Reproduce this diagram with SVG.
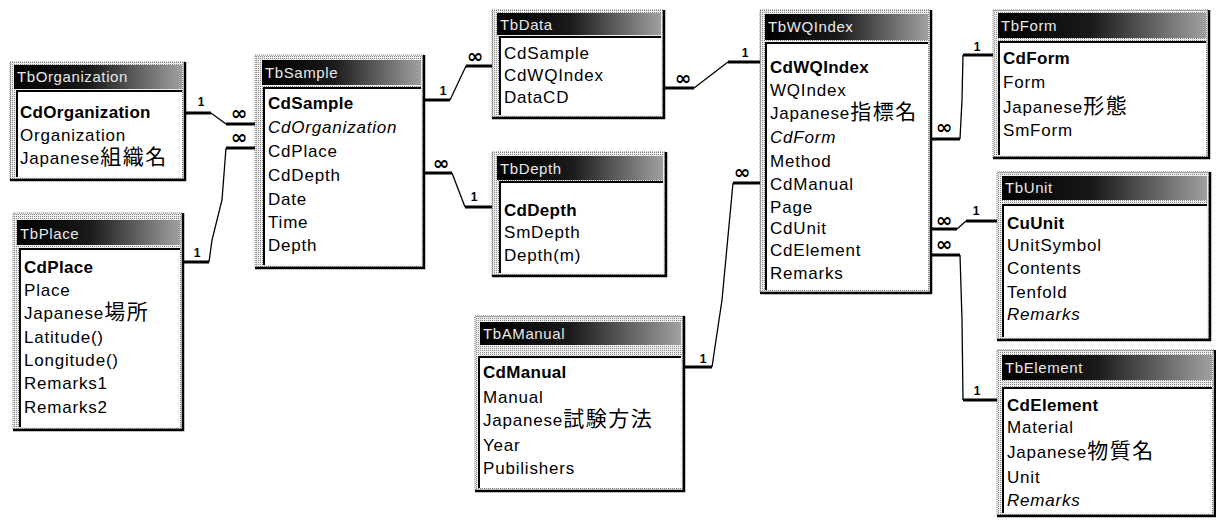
<svg xmlns="http://www.w3.org/2000/svg" width="1216" height="522" viewBox="0 0 1216 522">
<defs>
<linearGradient id="tg" x1="0" y1="0" x2="1" y2="0">
<stop offset="0" stop-color="#000"/>
<stop offset="0.45" stop-color="#1a1a1a"/>
<stop offset="1" stop-color="#a0a0a0"/>
</linearGradient>
<pattern id="dith" width="2" height="2" patternUnits="userSpaceOnUse">
<rect width="2" height="2" fill="#ececec"/>
<rect width="1" height="1" fill="#8a8a8a"/>
</pattern>
</defs>
<style>
.frame{fill:url(#dith);stroke:#777;stroke-width:1;stroke-dasharray:1 1}
.shadow{fill:none;stroke:#000;stroke-width:2.5}
.title{fill:url(#tg)}
.tt{font-family:"Liberation Sans",Arial,sans-serif;font-size:15px;fill:#e8e8e8;letter-spacing:0.6px}
.list{fill:#fff}
.sunk{fill:none;stroke:#000;stroke-width:2}
.f{font-family:"Liberation Sans",Arial,sans-serif;font-size:17px;fill:#000;letter-spacing:0.8px}
.b{font-weight:bold;letter-spacing:0.3px}
.i{font-style:italic}
.cjk{font-family:"Noto Sans CJK JP",sans-serif;font-size:21px;letter-spacing:1.5px}
.thick{fill:none;stroke:#000;stroke-width:3}
.thin{fill:none;stroke:#000;stroke-width:1.3}
.one{font-family:"Liberation Sans",Arial,sans-serif;font-size:12px;font-weight:bold;text-anchor:middle}
.inf{font-family:"DejaVu Sans",sans-serif;font-size:20px;font-weight:bold;text-anchor:middle}
</style>
<rect width="1216" height="522" fill="#fff"/>

<g id="TbOrganization">
<rect class="frame" x="10" y="62" width="175" height="118"/>
<path class="shadow" d="M185 62 V180 H10"/>
<rect class="title" x="14" y="65" width="168" height="24"/>
<text class="tt" x="17" y="82">TbOrganization</text>
<rect class="list" x="17" y="91" width="165" height="86"/>
<path class="sunk" d="M17 177 V91 H182"/>
<text class="f b" x="20" y="118">CdOrganization</text>
<text class="f" x="20" y="141">Organization</text>
<text class="f" x="20" y="164">Japanese<tspan class="cjk">組織名</tspan></text>
</g>

<g id="TbPlace">
<rect class="frame" x="13" y="213" width="170" height="217"/>
<path class="shadow" d="M183 213 V430 H13"/>
<rect class="title" x="17" y="220" width="163" height="25"/>
<text class="tt" x="20" y="239">TbPlace</text>
<rect class="list" x="20" y="249" width="160" height="178"/>
<path class="sunk" d="M20 427 V249 H180"/>
<text class="f b" x="24" y="273">CdPlace</text>
<text class="f" x="24" y="296">Place</text>
<text class="f" x="24" y="319">Japanese<tspan class="cjk">場所</tspan></text>
<text class="f" x="24" y="343">Latitude()</text>
<text class="f" x="24" y="366">Longitude()</text>
<text class="f" x="24" y="389">Remarks1</text>
<text class="f" x="24" y="413">Remarks2</text>
</g>

<g id="TbSample">
<rect class="frame" x="255" y="55" width="169" height="213"/>
<path class="shadow" d="M424 55 V268 H255"/>
<rect class="title" x="262" y="60" width="159" height="25"/>
<text class="tt" x="265" y="78">TbSample</text>
<rect class="list" x="264" y="88" width="157" height="177"/>
<path class="sunk" d="M264 265 V88 H421"/>
<text class="f b" x="268" y="109">CdSample</text>
<text class="f i" x="268" y="133">CdOrganization</text>
<text class="f" x="268" y="157">CdPlace</text>
<text class="f" x="268" y="181">CdDepth</text>
<text class="f" x="268" y="205">Date</text>
<text class="f" x="268" y="228">Time</text>
<text class="f" x="268" y="251">Depth</text>
</g>

<g id="TbData">
<rect class="frame" x="492" y="10" width="172" height="108"/>
<path class="shadow" d="M664 10 V118 H492"/>
<rect class="title" x="497" y="13" width="164" height="22"/>
<text class="tt" x="500" y="30">TbData</text>
<rect class="list" x="500" y="37" width="161" height="78"/>
<path class="sunk" d="M500 115 V37 H661"/>
<text class="f" x="504" y="59">CdSample</text>
<text class="f" x="504" y="81">CdWQIndex</text>
<text class="f" x="504" y="103">DataCD</text>
</g>

<g id="TbDepth">
<rect class="frame" x="492" y="152" width="174" height="124"/>
<path class="shadow" d="M666 152 V276 H492"/>
<rect class="title" x="497" y="156" width="166" height="24"/>
<text class="tt" x="500" y="174">TbDepth</text>
<rect class="list" x="500" y="182" width="163" height="91"/>
<path class="sunk" d="M500 273 V182 H663"/>
<text class="f b" x="504" y="216">CdDepth</text>
<text class="f" x="504" y="238">SmDepth</text>
<text class="f" x="504" y="261">Depth(m)</text>
</g>

<g id="TbAManual">
<rect class="frame" x="475" y="316" width="209" height="175"/>
<path class="shadow" d="M684 316 V491 H475"/>
<rect class="title" x="480" y="322" width="201" height="23"/>
<text class="tt" x="483" y="339">TbAManual</text>
<rect class="list" x="479" y="357" width="202" height="131"/>
<path class="sunk" d="M479 488 V357 H681"/>
<text class="f b" x="483" y="378">CdManual</text>
<text class="f" x="483" y="403">Manual</text>
<text class="f" x="483" y="426">Japanese<tspan class="cjk">試験方法</tspan></text>
<text class="f" x="483" y="451">Year</text>
<text class="f" x="483" y="474">Pubilishers</text>
</g>

<g id="TbWQIndex">
<rect class="frame" x="760" y="10" width="171" height="283"/>
<path class="shadow" d="M931 10 V293 H760"/>
<rect class="title" x="765" y="14" width="163" height="26"/>
<text class="tt" x="768" y="32">TbWQIndex</text>
<rect class="list" x="766" y="43" width="162" height="247"/>
<path class="sunk" d="M766 290 V43 H928"/>
<text class="f b" x="770" y="73">CdWQIndex</text>
<text class="f" x="770" y="96">WQIndex</text>
<text class="f" x="770" y="119">Japanese<tspan class="cjk">指標名</tspan></text>
<text class="f i" x="770" y="143">CdForm</text>
<text class="f" x="770" y="167">Method</text>
<text class="f" x="770" y="190">CdManual</text>
<text class="f" x="770" y="213">Page</text>
<text class="f" x="770" y="234">CdUnit</text>
<text class="f" x="770" y="256">CdElement</text>
<text class="f" x="770" y="279">Remarks</text>
</g>

<g id="TbForm">
<rect class="frame" x="993" y="10" width="216" height="148"/>
<path class="shadow" d="M1209 10 V158 H993"/>
<rect class="title" x="998" y="13" width="208" height="25"/>
<text class="tt" x="1001" y="31">TbForm</text>
<rect class="list" x="999" y="42" width="207" height="113"/>
<path class="sunk" d="M999 155 V42 H1206"/>
<text class="f b" x="1003" y="64">CdForm</text>
<text class="f" x="1003" y="88">Form</text>
<text class="f" x="1003" y="113">Japanese<tspan class="cjk">形態</tspan></text>
<text class="f" x="1003" y="136">SmForm</text>
</g>

<g id="TbUnit">
<rect class="frame" x="997" y="172" width="213" height="168"/>
<path class="shadow" d="M1210 172 V340 H997"/>
<rect class="title" x="1002" y="176" width="205" height="24"/>
<text class="tt" x="1005" y="193">TbUnit</text>
<rect class="list" x="1003" y="205" width="204" height="132"/>
<path class="sunk" d="M1003 337 V205 H1207"/>
<text class="f b" x="1007" y="229">CuUnit</text>
<text class="f" x="1007" y="251">UnitSymbol</text>
<text class="f" x="1007" y="274">Contents</text>
<text class="f" x="1007" y="298">Tenfold</text>
<text class="f i" x="1007" y="320">Remarks</text>
</g>

<g id="TbElement">
<rect class="frame" x="997" y="350" width="218" height="166"/>
<path class="shadow" d="M1215 350 V516 H997"/>
<rect class="title" x="1002" y="355" width="210" height="25"/>
<text class="tt" x="1005" y="373">TbElement</text>
<rect class="list" x="1003" y="388" width="209" height="125"/>
<path class="sunk" d="M1003 513 V388 H1212"/>
<text class="f b" x="1007" y="411">CdElement</text>
<text class="f" x="1007" y="433">Material</text>
<text class="f" x="1007" y="458">Japanese<tspan class="cjk">物質名</tspan></text>
<text class="f" x="1007" y="483">Unit</text>
<text class="f i" x="1007" y="506">Remarks</text>
</g>

<g id="connectors">
<path class="thick" d="M186 113 H211 M226 124 H255"/>
<path class="thin" d="M211 113 L226 124"/>
<text class="one" x="201" y="106">1</text>
<text class="inf" x="239" y="120">∞</text>

<path class="thick" d="M184 262 H209 M226 148 H255"/>
<path class="thin" d="M209 262 L212 240 L222 200 L226 148"/>
<text class="one" x="197" y="257">1</text>
<text class="inf" x="239" y="144">∞</text>

<path class="thick" d="M425 100 H450 M466 66 H492"/>
<path class="thin" d="M450 100 L466 66"/>
<text class="one" x="443" y="95">1</text>
<text class="inf" x="475" y="63">∞</text>

<path class="thick" d="M425 173 H452 M465 207 H492"/>
<path class="thin" d="M452 173 L465 207"/>
<text class="inf" x="441" y="170">∞</text>
<text class="one" x="474" y="201">1</text>

<path class="thick" d="M665 88 H694 M728 62 H760"/>
<path class="thin" d="M694 88 L728 62"/>
<text class="inf" x="683" y="85">∞</text>
<text class="one" x="745" y="57">1</text>

<path class="thick" d="M932 139 H960 M963 55 H993"/>
<path class="thin" d="M960 139 L962 100 L963 55"/>
<text class="inf" x="944" y="134">∞</text>
<text class="one" x="977" y="51">1</text>

<path class="thick" d="M932 229 H957 M966 221 H997"/>
<path class="thin" d="M957 229 L966 221"/>
<text class="inf" x="944" y="227">∞</text>
<text class="one" x="976" y="215">1</text>

<path class="thick" d="M932 255 H960 M963 400 H997"/>
<path class="thin" d="M960 255 L962 320 L963 400"/>
<text class="inf" x="944" y="251">∞</text>
<text class="one" x="977" y="395">1</text>

<path class="thick" d="M685 367 H712 M733 183 H760"/>
<path class="thin" d="M712 367 L722 300 L733 183"/>
<text class="one" x="703" y="363">1</text>
<text class="inf" x="742" y="179">∞</text>
</g>
</svg>
